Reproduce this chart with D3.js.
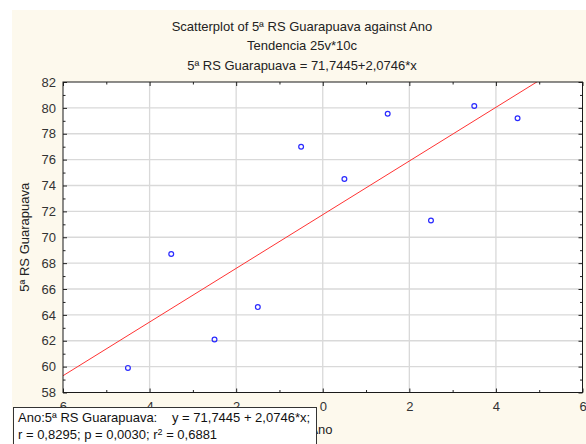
<!DOCTYPE html>
<html>
<head>
<meta charset="utf-8">
<script src="https://cdn.jsdelivr.net/npm/d3@7/dist/d3.min.js"></script>
<style>
  html, body { margin: 0; padding: 0; background: #ffffff; }
  svg { display: block; font-family: "Liberation Sans", Arial, sans-serif; }
</style>
</head>
<body>
<svg id="chart" width="586" height="444"></svg>
<script>
// Observations: Ano (centred) vs 5ª RS Guarapuava
const anoValues = [-4.5, -3.5, -2.5, -1.5, -0.5, 0.5, 1.5, 2.5, 3.5, 4.5];
const guarapuavaValues = [59.9, 68.7, 62.1, 64.6, 77.0, 74.5, 79.55, 71.3, 80.15, 79.2];

// Fitted trend: y = a + b*x
const fitIntercept = 71.7445;
const fitSlope = 2.0746;

const xTickValues = [-6, -4, -2, 0, 2, 4, 6];
const yTickValues = [58, 60, 62, 64, 66, 68, 70, 72, 74, 76, 78, 80, 82];
const xMinorTicks = [-5, -3, -1, 1, 3, 5];
const yMinorTicks = [59, 61, 63, 65, 67, 69, 71, 73, 75, 77, 79, 81];

const titleLines = [
  "Scatterplot of 5ª RS Guarapuava against Ano",
  "Tendencia 25v*10c",
  "5ª RS Guarapuava = 71,7445+2,0746*x"
];
const xAxisTitle = "Ano";
const yAxisTitle = "5ª RS Guarapuava";
const legendLine1a = "Ano:5ª RS Guarapuava:";
const legendLine1b = "y = 71,7445 + 2,0746*x;";
const legendLine2 = "r = 0,8295; p = 0,0030; r";
const legendLine2b = " = 0,6881";

const FONT = "'Liberation Sans', Arial, sans-serif";
const svg = d3.select("#chart");
const W = 586, H = 444;
const plot = { left: 63, right: 582.5, top: 82, bottom: 392.5 };

// cream graph window
svg.append("rect").attr("x", 12).attr("y", 10).attr("width", W - 12).attr("height", H - 10)
  .attr("fill", "#fdf9ed");

const x = d3.scaleLinear().domain([-6, 6]).range([plot.left, plot.right]);
const y = d3.scaleLinear().domain([58, 82]).range([plot.bottom, plot.top]);

// plot area
svg.append("rect")
  .attr("x", plot.left).attr("y", plot.top)
  .attr("width", plot.right - plot.left).attr("height", plot.bottom - plot.top)
  .attr("fill", "#ffffff");

// grid
const grid = svg.append("g").attr("stroke", "#d9d9d9").attr("stroke-width", 1.3);
grid.selectAll("line.gx").data(xTickValues.slice(1, -1)).join("line")
  .attr("x1", d => x(d)).attr("x2", d => x(d))
  .attr("y1", plot.top).attr("y2", plot.bottom);
grid.selectAll("line.gy").data(yTickValues.slice(1, -1)).join("line")
  .attr("x1", plot.left).attr("x2", plot.right)
  .attr("y1", d => y(d)).attr("y2", d => y(d));

// clip for the trend line
svg.append("clipPath").attr("id", "plotClip").append("rect")
  .attr("x", plot.left).attr("y", plot.top)
  .attr("width", plot.right - plot.left).attr("height", plot.bottom - plot.top);

const fitLine = d3.line().x(d => x(d)).y(d => y(fitIntercept + fitSlope * d));
svg.append("path")
  .attr("clip-path", "url(#plotClip)")
  .attr("d", fitLine([-6, 6]))
  .attr("fill", "none").attr("stroke", "#ff3333").attr("stroke-width", 1);

// points
svg.append("g").selectAll("circle")
  .data(anoValues.map((a, i) => [a, guarapuavaValues[i]]))
  .join("circle")
  .attr("cx", d => x(d[0])).attr("cy", d => y(d[1]))
  .attr("r", 2.4)
  .attr("fill", "none").attr("stroke", "#2a2aff").attr("stroke-width", 1.2);

// axes with inward ticks
const fmt = d => (d < 0 ? "-" : "") + Math.abs(d);
const tickStyle = g => {
  g.select(".domain").remove();
  g.selectAll(".tick line").attr("stroke", "#222");
};
const labelStyle = g => g.selectAll(".tick text")
  .attr("fill", "#333").style("font-size", "13px").style("font-family", FONT);

const xAxisG = svg.append("g").attr("transform", `translate(0,${plot.bottom})`)
  .call(d3.axisBottom(x).tickValues(xTickValues).tickSize(-4).tickPadding(9).tickFormat(fmt))
  .call(tickStyle).call(labelStyle);
// keep the digit centred under its tick; the sign sits to its left
xAxisG.selectAll(".tick text").attr("dx", d => d < 0 ? -2.2 : 0);

svg.append("g").attr("transform", `translate(0,${plot.bottom})`)
  .call(d3.axisBottom(x).tickValues(xMinorTicks).tickSize(-2.5).tickFormat(""))
  .call(tickStyle);
svg.append("g").attr("transform", `translate(0,${plot.top})`)
  .call(d3.axisTop(x).tickValues(xTickValues).tickSize(-4).tickFormat(""))
  .call(tickStyle);
svg.append("g").attr("transform", `translate(0,${plot.top})`)
  .call(d3.axisTop(x).tickValues(xMinorTicks).tickSize(-2.5).tickFormat(""))
  .call(tickStyle);

svg.append("g").attr("transform", `translate(${plot.left},0)`)
  .call(d3.axisLeft(y).tickValues(yTickValues).tickSize(-4).tickPadding(7).tickFormat(fmt))
  .call(tickStyle).call(labelStyle);
svg.append("g").attr("transform", `translate(${plot.left},0)`)
  .call(d3.axisLeft(y).tickValues(yMinorTicks).tickSize(-2.5).tickFormat(""))
  .call(tickStyle);
svg.append("g").attr("transform", `translate(${plot.right},0)`)
  .call(d3.axisRight(y).tickValues(yTickValues).tickSize(-4).tickFormat(""))
  .call(tickStyle);
svg.append("g").attr("transform", `translate(${plot.right},0)`)
  .call(d3.axisRight(y).tickValues(yMinorTicks).tickSize(-2.5).tickFormat(""))
  .call(tickStyle);

// frame
svg.append("rect")
  .attr("x", plot.left).attr("y", plot.top)
  .attr("width", plot.right - plot.left).attr("height", plot.bottom - plot.top)
  .attr("fill", "none").attr("stroke", "#1a1a1a").attr("stroke-width", 1);

// titles
svg.append("g").selectAll("text").data(titleLines).join("text")
  .attr("x", 302).attr("y", (d, i) => 30.5 + i * 19.5)
  .attr("text-anchor", "middle").attr("fill", "#222").style("font-size", "13px")
  .text(d => d);

svg.append("text")
  .attr("x", 321).attr("y", 434)
  .attr("text-anchor", "middle").attr("fill", "#222").style("font-size", "13px")
  .text(xAxisTitle);

svg.append("text")
  .attr("transform", `translate(29,${(plot.top + plot.bottom) / 2}) rotate(-90)`)
  .attr("text-anchor", "middle").attr("fill", "#222").style("font-size", "13px")
  .text(yAxisTitle);

// regression legend box
const legend = svg.append("g");
legend.append("rect").attr("x", 13.5).attr("y", 407.5).attr("width", 303).attr("height", 50)
  .attr("fill", "#ffffff").attr("stroke", "#333").attr("stroke-width", 1);
legend.append("text").attr("x", 18).attr("y", 422).attr("fill", "#111").style("font-size", "13px")
  .text(legendLine1a);
legend.append("text").attr("x", 172).attr("y", 422).attr("fill", "#111").style("font-size", "13px")
  .text(legendLine1b);
const l2 = legend.append("text").attr("x", 18).attr("y", 439).attr("fill", "#111").style("font-size", "13px");
l2.append("tspan").text(legendLine2);
l2.append("tspan").attr("dy", -4.5).style("font-size", "9px").text("2");
l2.append("tspan").attr("dy", 4.5).text(legendLine2b);
</script>
</body>
</html>
